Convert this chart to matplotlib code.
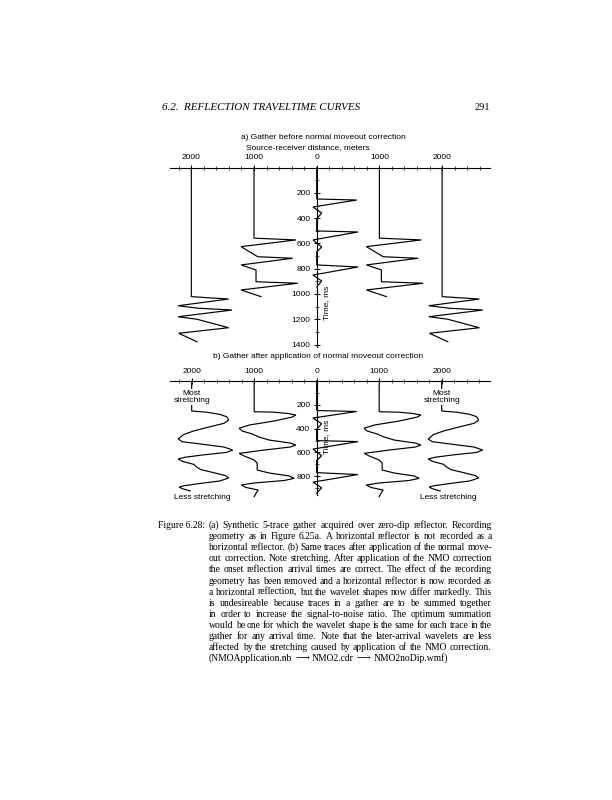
import matplotlib
matplotlib.use('Agg')
import matplotlib.pyplot as plt
from matplotlib.ticker import FixedLocator

# ---------------- data ----------------
offsets = [-2000, -1000, 0, 1000, 2000]
x_ticks = [-2000, -1000, 0, 1000, 2000]
x_tick_labels = ['2000', '1000', '0', '1000', '2000']
ya_ticks = [200, 400, 600, 800, 1000, 1200, 1400]
yb_ticks = [200, 400, 600, 800]

# zero-offset trace (identical in both panels): time ms, amplitude m
t_zero = [0, 248, 256, 311, 359, 406, 501, 509, 572, 628, 667, 770, 786, 850, 897, 944]
a_zero = [0, 0, 640, -60, 80, 0, 0, 660, -60, 80, 0, 0, 660, -60, 80, 0]

# panel a, |offset| = 1000
t_a1 = [0, 558, 572, 625, 705, 717, 770, 810, 903, 915, 968, 1021]
a_a1 = [0, 0, 670, -207, 59, 617, -207, 32, 32, 697, -207, 112]

# panel a, |offset| = 2000
t_a2 = [0, 1021, 1040, 1093, 1113, 1127, 1180, 1200, 1267, 1311, 1378]
a_a2 = [0, 0, 595, -212, 117, 649, -212, 91, 595, -202, 91]

# panel b, |offset| = 1000
t_b1 = [0, 258, 262, 273, 286, 303, 336, 370, 397, 420, 445, 471, 496, 521, 538, 555,
        580, 608, 630, 664, 689, 748, 773, 798, 818, 836, 857, 874, 895, 916, 941, 972]
a_b1 = [0, 0, 320, 544, 667, 608, 320, -80, -240, -192, -32, 80, 240, 576, 667, 576,
        160, -240, -160, 0, 48, 48, 240, 560, 640, 480, 0, -208, -128, 64, 32, 0]

# panel b, |offset| = 2000
t_b2 = [0, 252, 262, 280, 300, 328, 355, 390, 420, 450, 487, 510, 530, 555, 580, 600,
        620, 640, 655, 675, 700, 723, 745, 770, 795, 815, 840, 860, 880, 891, 905, 924]
a_b2 = [0, 0, 240, 450, 560, 592, 520, 250, 30, -130, -216, -150, 150, 520, 656, 560,
        200, -100, -216, -150, 30, 80, 150, 350, 540, 592, 450, 150, -120, -200, -150, -24]

header_left = '6.2.  REFLECTION TRAVELTIME CURVES'
header_right = '291'
title_a = 'a) Gather before normal moveout correction'
xlabel_a = 'Source-receiver distance, meters'
title_b = 'b) Gather after application of normal moveout correction'
ylabel = 'Time, ms'

caption_label = 'Figure 6.28:'
caption_lines = [
    "(a) Synthetic 5-trace gather acquired over zero-dip reflector.  Recording",
    "geometry as in Figure 6.25a.  A horizontal reflector is not recorded as a",
    "horizontal reflector.  (b) Same traces after application of the normal move-",
    "out correction. Note stretching. After application of the NMO correction",
    "the onset reflection arrival times are correct.  The effect of the recording",
    "geometry has been removed and a horizontal reflector is now recorded as",
    "a horizontal reflection, but the wavelet shapes now differ markedly.  This",
    "is undesireable because traces in a gather are to be summed together",
    "in order to increase the signal-to-noise ratio.  The optimum summation",
    "would be one for which the wavelet shape is the same for each trace in the",
    "gather for any arrival time.  Note that the later-arrival wavelets are less",
    "affected by the stretching caused by application of the NMO correction.",
    "(NMOApplication.nb \u27f6 NMO2.cdr \u27f6 NMO2noDip.wmf)",
]

# ---------------- layout ----------------
W, H = 612, 800
fig = plt.figure(figsize=(W / 100, H / 100), dpi=100)
SANS = ['Liberation Sans', 'DejaVu Sans']
SERIF = ['Liberation Serif', 'DejaVu Serif']
plt.rcParams['font.family'] = SANS


def rect(l, t, r, b):
    return [l / W, 1 - b / H, (r - l) / W, (b - t) / H]


def make_axes(r, xlim, ylim, ybound, yticks):
    ax = fig.add_axes(r)
    ax.set_xlim(*xlim)
    ax.set_ylim(*ylim)
    ax.patch.set_alpha(0)
    for s in ['bottom', 'right']:
        ax.spines[s].set_visible(False)
    ax.spines['top'].set_position(('data', 0))
    ax.spines['left'].set_position(('data', 0))
    ax.spines['left'].set_bounds(0, ybound)
    for s in ['top', 'left']:
        ax.spines[s].set_linewidth(0.8)
    ax.xaxis.set_ticks_position('top')
    ax.yaxis.set_ticks_position('left')
    ax.set_xticks(x_ticks)
    ax.set_xticklabels(x_tick_labels)
    ax.xaxis.set_minor_locator(FixedLocator([v for v in range(-2200, 2800, 200) if v % 1000]))
    ax.set_yticks(yticks)
    ax.set_yticklabels([str(v) for v in yticks])
    ax.yaxis.set_minor_locator(FixedLocator([v for v in range(100, ybound, 100) if v % 200]))
    ax.tick_params(which='major', direction='inout', length=5, width=0.7, labelsize=6, pad=2)
    ax.tick_params(which='minor', direction='inout', length=2.5, width=0.5)
    return ax


# panel a: x px = 316.7 + 0.0627*x ; y px = 167.7 + 0.1263*t
axa = make_axes(rect(170, 160.1, 490, 350.2), (-2340, 2764), (1445, -60), 1420, ya_ticks)
# panel b: x px = 316.7 + 0.0625*x ; y px = 381 + 0.119*t
axb = make_axes(rect(169.8, 373.9, 489.8, 500), (-2350, 2770), (1000, -60), 960, yb_ticks)

lw = 0.85
for off in offsets:
    k = abs(off)
    if k == 0:
        ta, aa, tb, ab = t_zero, a_zero, t_zero, a_zero
    elif k == 1000:
        ta, aa, tb, ab = t_a1, a_a1, t_b1, a_b1
    else:
        ta, aa, tb, ab = t_a2, a_a2, t_b2, a_b2
    axa.plot([off + v for v in aa], ta, color='black', lw=lw, solid_joinstyle='miter')
    axb.plot([off + v for v in ab], tb, color='black', lw=lw, solid_joinstyle='miter')

axa.text(150, 1071, ylabel, rotation=90, ha='center', va='center', fontsize=6)
axb.text(160, 470, ylabel, rotation=90, ha='center', va='center', fontsize=6)

bb = dict(facecolor='white', edgecolor='none', pad=0.3)
for xo in (-2000, 2000):
    axb.text(xo, 134, 'Most\nstretching', ha='center', va='center', fontsize=6,
             linespacing=1.15, bbox=bb)
axb.text(-1835, 983, 'Less stretching', ha='center', va='center', fontsize=6)
axb.text(2100, 983, 'Less stretching', ha='center', va='center', fontsize=6)

fig.text(323 / W, 1 - 137.7 / H, title_a, ha='center', va='center', fontsize=6)
fig.text(308 / W, 1 - 147.7 / H, xlabel_a, ha='center', va='center', fontsize=6)
fig.text(318 / W, 1 - 357 / H, title_b, ha='center', va='center', fontsize=6)

renderer = fig.canvas.get_renderer()

hdr = fig.text(162 / W, 1 - 108 / H, header_left, ha='left', va='center', fontsize=7,
               family=SERIF, style='italic')
hw = hdr.get_window_extent(renderer).width
hdr.set_fontsize(7 * 200 / hw)
fig.text(490 / W, 1 - 108 / H, header_right, ha='right', va='center', fontsize=7.5,
         family=SERIF)

# caption, justified; font size fitted so natural line width ~ column width
x_left, x_right = 209, 492
col = x_right - x_left
y0, dy = 528, 11.1
probe = fig.text(0, 0, caption_lines[0], fontsize=6, family=SERIF)
nat = []
for ln in caption_lines[:-2]:
    probe.set_text(' '.join(ln.split()))
    nat.append(probe.get_window_extent(renderer).width)
probe.remove()
nat.sort()
cap_fs = 6 * col / nat[len(nat) // 2] * 0.99

fig.text(205 / W, 1 - y0 / H, caption_label, ha='right', va='baseline',
         fontsize=cap_fs, family=SERIF)

for i, line in enumerate(caption_lines):
    y = y0 + i * dy
    words = line.split()
    last = i >= len(caption_lines) - 2
    txts = [fig.text(0, 1 - y / H, w, ha='left', va='baseline', fontsize=cap_fs,
                     family=SERIF) for w in words]
    widths = [t.get_window_extent(renderer).width for t in txts]
    if last or len(words) < 2:
        sp = cap_fs * 100 / 72 * 0.3
    else:
        sp = (col - sum(widths)) / (len(words) - 1)
    x = x_left
    for t, w_ in zip(txts, widths):
        t.set_x(x / W)
        x += w_ + sp

fig.savefig('out.png', dpi=100, facecolor='white')
